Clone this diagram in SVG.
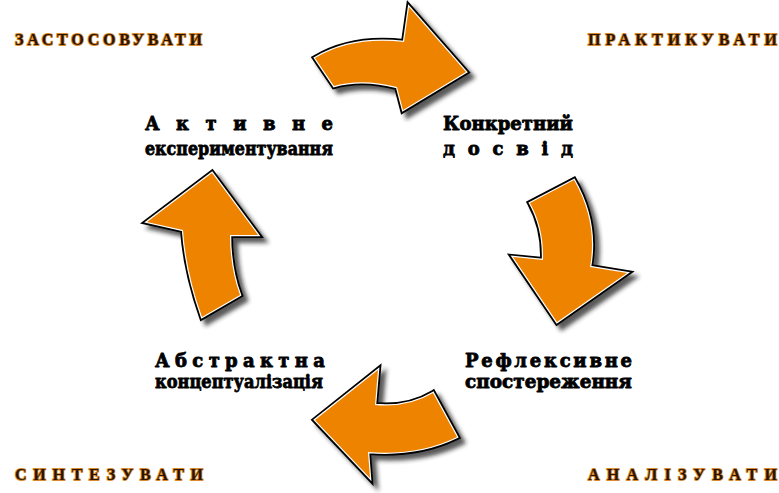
<svg xmlns="http://www.w3.org/2000/svg" width="779" height="493" viewBox="0 0 779 493">
<defs>
<style>
.corner{font-family:"Liberation Serif","Times New Roman",serif;font-weight:bold;font-size:16px;fill:#2a1400;stroke:#d98a30;stroke-width:1.8px;paint-order:stroke;stroke-linejoin:round}
.node{font-family:"DejaVu Serif","Liberation Serif",serif;font-weight:bold;font-size:18px;fill:#000;stroke:#000;stroke-width:0.8px;stroke-linejoin:round}
.outline{fill:#000;stroke:#000;stroke-width:6;stroke-linejoin:miter}
.white{fill:#fff;stroke:#fff;stroke-width:2.4;stroke-linejoin:miter}
.fill{fill:#ee8300}
</style>
<filter id="sh" x="-20%" y="-20%" width="150%" height="150%">
<feDropShadow dx="5" dy="5" stdDeviation="2" flood-color="#222" flood-opacity="0.75"/>
</filter>
<path id="aTop" d="M315,58 Q352,36 404,42 L409,7 L466,72 L403,110 L397,87 Q362,78 334,86 Z"/>
<path id="aRight" d="M530,203 L574,180 Q598,222 590,267 L627,273 L557,322 L513,257 L543,260 Q544,228 530,203 Z"/>
<path id="aBottom" d="M457,437 Q418,456 368,452 L370,478 L315,420 L378,370 L375,405 Q408,408 433,393 Z"/>
<path id="aLeft" d="M202,317 Q186,272 183,230 L147,222 L212,173 L258,235 L230,235 Q230,268 240,295 Z"/>
</defs>
<rect width="779" height="493" fill="#fff"/>
<g id="connectors">
<g id="arrow-top"><use href="#aTop" class="outline" filter="url(#sh)"/><use href="#aTop" class="white"/><use href="#aTop" class="fill"/></g>
<g id="arrow-right"><use href="#aRight" class="outline" filter="url(#sh)"/><use href="#aRight" class="white"/><use href="#aRight" class="fill"/></g>
<g id="arrow-bottom"><use href="#aBottom" class="outline" filter="url(#sh)"/><use href="#aBottom" class="white"/><use href="#aBottom" class="fill"/></g>
<g id="arrow-left"><use href="#aLeft" class="outline" filter="url(#sh)"/><use href="#aLeft" class="white"/><use href="#aLeft" class="fill"/></g>
</g>
<g id="corner-tl"><text class="corner" x="15" y="45" textLength="187" lengthAdjust="spacing">ЗАСТОСОВУВАТИ</text></g>
<g id="corner-tr"><text class="corner" x="588" y="45" textLength="189" lengthAdjust="spacing">ПРАКТИКУВАТИ</text></g>
<g id="corner-bl"><text class="corner" x="15" y="480" textLength="188" lengthAdjust="spacing">СИНТЕЗУВАТИ</text></g>
<g id="corner-br"><text class="corner" x="588" y="480" textLength="189" lengthAdjust="spacing">АНАЛІЗУВАТИ</text></g>
<g id="node-active">
<text class="node" x="145" y="130" textLength="188" lengthAdjust="spacing">А к т и в н е</text>
<text class="node" x="145" y="155" textLength="188" lengthAdjust="spacingAndGlyphs">експериментування</text>
</g>
<g id="node-concrete">
<text class="node" x="443" y="130" textLength="130" lengthAdjust="spacingAndGlyphs">Конкретний</text>
<text class="node" x="443" y="155" textLength="130" lengthAdjust="spacing">д о с в і д</text>
</g>
<g id="node-abstract">
<text class="node" x="155" y="367" textLength="170" lengthAdjust="spacing">А б с т р а к т н а</text>
<text class="node" x="155" y="388" textLength="168" lengthAdjust="spacingAndGlyphs">концептуалізація</text>
</g>
<g id="node-reflexive">
<text class="node" x="465" y="367" textLength="167" lengthAdjust="spacing">Рефлексивне</text>
<text class="node" x="465" y="388" textLength="167" lengthAdjust="spacingAndGlyphs">спостереження</text>
</g>
</svg>
